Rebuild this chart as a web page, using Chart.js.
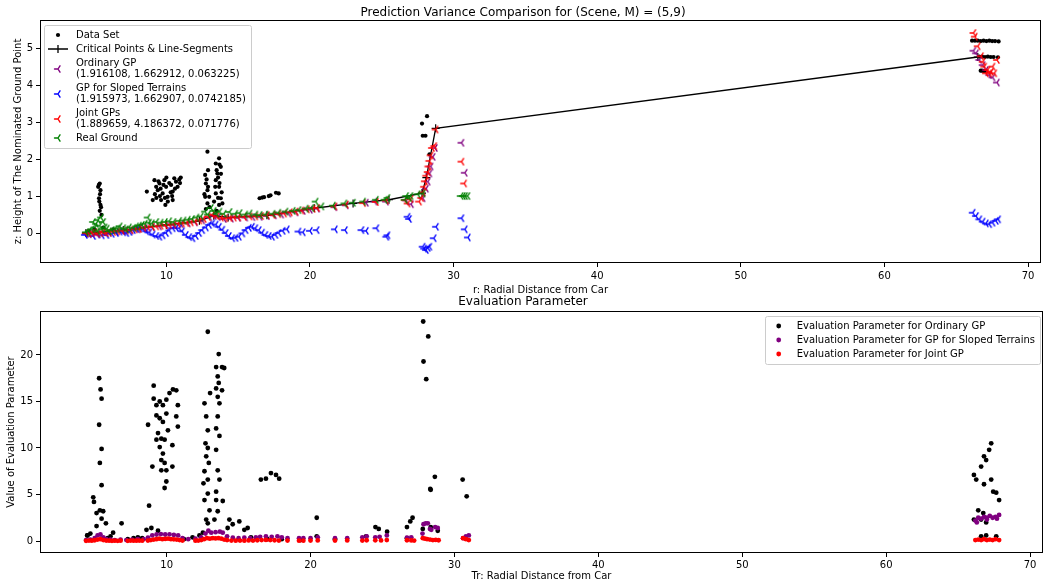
<!DOCTYPE html>
<html>
<head>
<meta charset="utf-8">
<script src="https://cdn.jsdelivr.net/npm/chart.js@4.4.1/dist/chart.umd.min.js"></script>
<style>
  html, body { margin: 0; padding: 0; background: #fff; }
  #wrap { position: relative; width: 1047px; height: 582px; }
  #topChart { position: absolute; left: 0; top: 0; }
  #bottomChart { position: absolute; left: 0; top: 290px; }
</style>
</head>
<body>
<div id="wrap">
  <canvas id="topChart" width="1047" height="300"></canvas>
  <canvas id="bottomChart" width="1047" height="292"></canvas>
</div>
<script>
// ---- data (r = radial distance, z = height / value) ----
const rTicks = [10, 20, 30, 40, 50, 60, 70];
const zTicks = [0, 1, 2, 3, 4, 5];
const evalTicks = [0, 5, 10, 15, 20];

const dataSet = [
  [5.25,1.25],[5.31,0.94],[5.36,1.34],[5.41,1.16],[5.41,0.76],[5.36,0.6],[5.48,0.49],[5.3,1.3],[5.38,1.05],[5.45,0.7],[5.33,0.85],
  [4.6,0.05],[5.0,0.1],[5.6,0.15],[6.3,0.1],
  [8.64,1.12],[9.05,0.89],[9.17,1.43],[9.29,1.25],[9.4,1.16],[9.52,1.34],[9.63,0.89],[9.74,1.07],[9.86,1.43],[9.93,0.76],[9.98,1.25],
  [10.09,0.98],[10.33,1.3],[10.44,0.89],[10.44,1.12],[10.55,1.48],[10.67,1.39],[10.78,1.25],[9.2,1.05],[9.45,1.4],[9.6,1.2],[9.8,1.3],
  [10.0,1.5],[10.2,1.35],[10.3,1.1],[10.6,1.2],[10.9,1.45],[11.0,1.5],[9.3,0.95],[9.9,0.95],[10.1,0.85],[10.4,1.0],[9.55,1.0],[10.95,1.35],
  [12.86,2.2],[13.67,2.02],[13.79,1.79],[13.44,1.88],[13.55,1.61],[12.7,1.57],[12.75,1.34],[12.86,1.16],[12.7,0.98],[12.86,0.8],
  [13.44,1.43],[13.67,1.25],[13.44,1.07],[13.79,0.94],[13.32,0.85],[13.67,0.76],[12.98,0.98],[13.9,0.8],[12.8,1.45],[12.9,1.7],
  [13.5,1.7],[13.6,1.5],[13.7,1.85],[13.8,1.6],[12.75,0.65],[13.0,0.7],[13.5,0.6],[13.85,1.1],[12.9,1.25],[13.4,1.25],[13.7,1.35],
  [12.65,1.05],[13.6,0.95],
  [16.49,0.94],[16.67,0.96],[16.8,0.97],[17.13,1.0],[17.25,1.02],[17.63,1.09],[17.82,1.07],
  [28.15,3.16],[27.8,2.96],[27.85,2.63],[28.04,2.63],[28.32,2.13],
  [66.1,5.2],[66.3,5.2],[66.5,5.2],[66.7,5.19],[66.9,5.2],[67.1,5.19],[67.3,5.2],[67.5,5.19],[67.7,5.19],[67.95,5.18],
  [66.6,4.77],[66.8,4.77],[67.0,4.76],[67.2,4.77],[67.4,4.76],[67.6,4.76],[67.9,4.75],
  [66.7,4.39],[66.8,4.39],[66.9,4.38],[67.0,4.38]
];

const criticalPts = [
  [4.4,0.0],[7.0,0.08],[10.0,0.22],[12.3,0.33],[13.3,0.47],[14.3,0.42],[17.0,0.48],[20.3,0.67],
  [23.0,0.8],[25.5,0.9],[27.8,1.08],[28.1,1.5],[28.75,2.83],[66.5,4.76]
];

const ordinaryGP = [
  [4.4,-0.02],[4.8,0.0],[5.2,-0.03],[5.6,0.02],[6.0,0.0],[6.5,0.03],[7.0,0.05],[7.5,0.07],[8.0,0.1],[8.5,0.13],[9.0,0.16],
  [9.5,0.18],[10.0,0.2],[10.5,0.22],[11.0,0.24],[11.5,0.26],[12.0,0.29],[12.5,0.34],[13.0,0.42],[13.3,0.46],[13.6,0.43],
  [14.0,0.38],[14.5,0.39],[15.0,0.41],[15.5,0.42],[16.0,0.43],[16.5,0.44],[17.0,0.46],[17.5,0.48],[18.0,0.5],[18.5,0.53],
  [19.0,0.56],[19.5,0.6],[20.0,0.63],[20.5,0.66],[21.7,0.7],[22.5,0.75],[23.9,0.82],[24.5,0.85],[25.3,0.85],[26.7,0.88],[27.04,0.78],
  [27.85,0.94],[28.08,1.2],[28.2,1.39],[28.32,1.61],[28.4,1.8],[28.55,2.06],[28.7,2.3],
  [30.55,2.44],[30.78,1.63],
  [66.2,4.93],[66.38,4.86],[66.61,4.68],[66.84,4.54],[67.07,4.41],[67.3,4.27],[67.53,4.21],[67.84,4.07]
];

const slopedGP = [
  [4.33,-0.05],[4.6,-0.03],[4.9,-0.08],[5.2,-0.04],[5.5,-0.06],[5.83,-0.05],[6.2,-0.02],[6.5,0.0],[6.75,0.04],[7.0,0.02],
  [7.21,0.0],[7.44,0.03],[7.67,0.08],[7.9,0.11],[8.13,0.13],[8.4,0.1],[8.6,0.05],[8.82,0.02],[9.05,-0.04],[9.3,-0.08],
  [9.52,-0.1],[9.74,-0.06],[9.98,0.0],[10.2,0.07],[10.44,0.13],[10.67,0.14],[10.9,0.13],[11.1,0.05],[11.36,-0.05],[11.6,-0.11],
  [11.82,-0.14],[12.05,-0.08],[12.28,0.0],[12.5,0.08],[12.75,0.15],[12.98,0.22],[13.2,0.26],[13.44,0.23],[13.67,0.17],[13.9,0.09],
  [14.13,0.0],[14.36,-0.08],[14.59,-0.14],[14.82,-0.13],[15.05,-0.1],[15.3,-0.01],[15.52,0.08],[15.75,0.14],[15.97,0.17],[16.2,0.13],
  [16.44,0.08],[16.67,0.01],[16.9,-0.05],[17.13,-0.08],[17.36,-0.1],[17.6,-0.05],[17.82,0.0],[18.1,0.06],[18.39,0.1],[19.2,0.04],
  [19.5,0.02],[20.0,0.06],[20.47,0.08],[21.74,0.1],[22.44,0.08],[23.59,0.08],[23.9,0.06],[24.63,0.13],[25.32,-0.1],[25.4,-0.06],
  [26.8,0.44],[26.9,0.38],[27.85,-0.37],[27.95,-0.42],[28.08,-0.46],[28.2,-0.4],[28.32,-0.37],[28.62,-0.14],[28.78,0.17],
  [30.55,0.4],[30.78,0.1],[31.0,-0.12],
  [66.15,0.55],[66.38,0.46],[66.61,0.37],[66.84,0.31],[67.07,0.26],[67.3,0.24],[67.53,0.28],[67.76,0.33],[67.92,0.37]
];

const jointGP = [
  [4.4,0.0],[4.6,-0.02],[4.8,0.0],[5.0,0.02],[5.2,-0.02],[5.4,0.0],[5.6,0.03],[5.8,0.0],[6.0,0.02],[6.3,0.03],[6.6,0.05],
  [6.9,0.06],[7.2,0.07],[7.5,0.08],[7.8,0.1],[8.1,0.11],[8.4,0.14],[8.7,0.15],[9.0,0.17],[9.3,0.18],[9.6,0.2],[9.9,0.21],
  [10.2,0.22],[10.5,0.23],[10.8,0.25],[11.1,0.26],[11.4,0.27],[11.7,0.29],[12.0,0.31],[12.3,0.34],[12.6,0.38],[12.9,0.44],
  [13.2,0.49],[13.5,0.46],[13.8,0.42],[14.1,0.4],[14.4,0.41],[14.7,0.42],[15.0,0.43],[15.4,0.44],[15.8,0.45],[16.2,0.45],
  [16.6,0.46],[17.0,0.48],[17.4,0.49],[17.8,0.51],[18.2,0.53],[18.6,0.56],[19.0,0.58],[19.4,0.61],[19.8,0.64],[20.2,0.66],
  [20.5,0.68],[21.7,0.72],[22.5,0.77],[23.7,0.81],[24.6,0.84],[25.3,0.88],[26.6,0.89],[26.8,0.8],[27.0,0.92],[27.6,0.85],
  [27.75,0.95],[27.85,1.1],[27.95,1.25],[28.0,1.4],[28.1,1.55],[28.2,1.65],[28.25,1.8],[28.32,1.95],[28.4,2.1],[28.5,2.3],
  [28.66,2.35],[28.75,2.8],
  [30.55,1.93],[30.74,1.34],
  [66.2,5.41],[66.3,5.31],[66.5,5.05],[66.73,4.78],[66.84,4.63],[66.95,4.5],[67.07,4.32],[67.18,4.41],[67.3,4.32],
  [67.42,4.36],[67.53,4.5],[67.65,4.32],[67.84,4.68]
];

const realGround = [
  [4.4,0.02],[4.6,0.05],[4.8,0.1],[4.9,0.3],[5.0,0.15],[5.1,0.25],[5.2,0.05],[5.25,0.35],[5.35,0.2],[5.45,0.42],[5.5,0.1],
  [5.6,0.3],[5.7,0.15],[5.85,0.12],[6.0,0.05],[6.2,0.08],[6.4,0.1],[6.6,0.12],[6.75,0.18],[7.0,0.13],[7.2,0.1],[7.4,0.15],
  [7.7,0.14],[7.9,0.18],[8.1,0.2],[8.3,0.22],[8.5,0.25],[8.7,0.42],[8.8,0.28],[9.0,0.26],[9.3,0.3],[9.6,0.28],[9.9,0.3],
  [10.2,0.32],[10.5,0.3],[10.9,0.33],[11.2,0.34],[11.5,0.36],[11.8,0.38],[12.1,0.42],[12.4,0.45],[12.7,0.58],[12.9,0.5],
  [13.1,0.68],[13.3,0.6],[13.5,0.52],[13.7,0.58],[14.0,0.52],[14.4,0.57],[14.8,0.52],[15.1,0.54],[15.5,0.5],[15.8,0.53],
  [16.2,0.5],[16.5,0.49],[16.9,0.5],[17.4,0.52],[17.8,0.55],[18.3,0.58],[18.8,0.6],[19.2,0.62],[19.7,0.66],[20.1,0.68],
  [20.4,0.85],[20.8,0.72],[21.6,0.74],[22.4,0.8],[23.0,0.82],[23.7,0.85],[24.6,0.9],[25.2,0.9],[25.4,0.95],
  [26.6,0.9],[26.7,1.0],[26.9,0.95],[27.0,1.0],[27.5,1.05],[27.85,1.07],
  [30.5,1.0],[30.65,1.0],[30.8,1.0],[30.97,1.0]
];

const evalOrdinary = [
  [5.31,17.5],[5.41,16.3],[5.48,15.3],[5.31,12.5],[5.48,9.9],[5.36,8.4],[5.48,6.0],[4.9,4.7],[4.95,4.2],[5.13,3.0],[5.36,3.3],
  [5.59,3.2],[5.13,1.6],[5.78,1.9],[5.48,2.4],[4.48,0.6],[6.28,0.9],[6.87,1.9],
  [8.71,12.5],[9.1,16.7],[9.1,15.3],[9.29,14.6],[9.52,15.0],[9.74,14.6],[9.98,15.2],[10.2,15.9],[10.44,16.3],[10.67,16.2],
  [10.78,14.6],[10.67,13.4],[10.78,12.3],[10.4,10.3],[10.4,8.0],[9.29,13.5],[9.52,13.2],[9.74,12.8],[9.98,13.7],[9.4,11.6],
  [9.63,11.0],[9.86,10.9],[10.09,11.9],[9.29,10.9],[9.52,10.1],[9.74,9.4],[9.63,8.7],[9.86,8.4],[9.98,7.6],[9.63,7.6],
  [9.86,5.7],[9.98,6.4],[9.01,8.0],[8.78,3.8],[8.94,1.4],[8.6,1.2],[9.4,1.1],
  [12.86,22.5],[13.62,20.1],[13.44,18.7],[13.85,18.7],[14.0,18.6],[13.55,17.7],[13.62,17.0],[13.44,16.4],[13.85,16.2],[13.02,15.9],
  [13.55,15.5],[12.63,14.8],[13.67,14.8],[12.75,13.4],[13.55,13.4],[12.86,11.9],[13.44,12.1],[13.67,11.3],[12.7,10.5],[12.86,10.0],
  [13.44,9.8],[12.75,9.1],[12.93,8.4],[13.55,7.6],[12.63,7.5],[12.86,6.6],[12.56,6.2],[13.67,6.6],[13.44,5.3],[12.86,5.1],
  [12.63,4.4],[13.44,4.4],[13.9,4.3],[12.98,3.3],[13.55,3.2],[12.75,2.3],[13.32,2.3],[12.86,1.9],[14.36,2.3],[14.59,1.8],
  [15.05,2.1],[15.4,1.2],[15.63,1.4],[15.86,0.4],[14.24,1.4],[12.28,0.6],[12.52,0.9],
  [16.55,6.6],[16.9,6.7],[17.25,7.3],[17.6,7.1],[17.82,6.7],
  [4.5,0.6],[4.7,0.8],[5.9,0.3],[6.1,0.5],[7.3,0.2],[7.7,0.3],[8.0,0.4],[8.3,0.3],[11.2,0.2],[11.8,0.4],[17.0,0.2],
  [18.0,0.2],[19.3,0.1],[20.43,2.5],[20.43,0.5],[21.7,0.2],[23.86,0.5],[24.51,1.5],[24.74,1.3],[25.32,1.0],
  [26.7,1.5],[26.93,2.1],[27.09,2.5],[26.7,0.3],
  [27.83,23.6],[28.18,22.0],[27.85,19.3],[28.04,17.4],[28.64,6.9],[28.32,5.6],[28.35,5.5],[27.8,1.3],[28.35,1.5],[28.84,1.1],
  [30.57,6.6],[30.85,4.8],
  [67.3,10.5],[67.16,9.8],[66.8,9.1],[66.95,8.7],[66.6,8.0],[66.1,7.1],[66.26,6.6],[67.3,6.6],[66.8,6.1],[67.44,5.3],
  [67.65,5.2],[67.85,4.4],[66.4,3.3],[66.75,3.0],[66.6,2.3],[66.95,2.0],[66.1,2.3],[66.95,0.6],[66.6,0.5],[67.65,0.5]
];

const evalSloped = [
  [4.4,0.1],[4.7,0.15],[5.0,0.3],[5.2,0.6],[5.4,0.7],[5.6,0.4],[5.8,0.2],[6.1,0.15],[6.4,0.1],[6.8,0.15],[7.2,0.1],
  [7.6,0.15],[8.0,0.2],[8.4,0.2],[8.7,0.35],[9.0,0.6],[9.3,0.7],[9.6,0.75],[9.9,0.7],[10.2,0.72],[10.5,0.65],[10.8,0.6],
  [11.1,0.3],[11.5,0.2],[12.0,0.25],[12.4,0.4],[12.7,0.8],[12.9,1.1],[13.1,0.9],[13.4,0.95],[13.7,1.0],[13.9,0.9],[14.2,0.5],
  [14.6,0.35],[15.0,0.3],[15.4,0.35],[15.8,0.3],[16.2,0.4],[16.5,0.45],[16.9,0.5],[17.3,0.45],[17.7,0.5],[18.0,0.4],[18.4,0.3],
  [19.2,0.3],[19.5,0.3],[20.0,0.3],[20.5,0.4],[21.7,0.3],[22.55,0.3],[23.6,0.4],[23.9,0.5],[24.5,0.4],[24.8,0.45],[25.3,0.6],
  [26.7,0.35],[27.0,0.4],[27.78,0.8],[27.85,1.8],[28.0,1.9],[28.15,1.9],[28.3,1.3],[28.39,1.2],[28.66,1.5],[28.84,1.4],
  [30.6,0.3],[30.8,0.5],[31.0,0.6],
  [66.2,2.2],[66.4,2.5],[66.6,2.4],[66.8,2.6],[67.0,2.5],[67.2,2.7],[67.4,2.5],[67.6,2.6],[67.85,2.8],[66.3,2.0],[67.0,2.3],[67.7,2.4]
];

const evalJoint = [
  [4.4,0.02],[4.6,0.05],[4.8,0.03],[5.0,0.08],[5.2,0.15],[5.4,0.2],[5.6,0.1],[5.8,0.05],[6.0,0.03],[6.2,0.02],[6.4,0.04],
  [6.6,0.02],[6.8,0.03],[7.3,0.02],[7.5,0.05],[7.7,0.03],[7.9,0.04],[8.1,0.05],[8.3,0.03],[8.7,0.05],[8.9,0.1],[9.1,0.15],
  [9.3,0.2],[9.5,0.25],[9.7,0.2],[9.9,0.22],[10.1,0.25],[10.3,0.2],[10.5,0.18],[10.7,0.15],[10.9,0.1],[11.1,0.05],[12.0,0.03],
  [12.2,0.05],[12.4,0.1],[12.6,0.2],[12.8,0.3],[13.0,0.25],[13.2,0.3],[13.4,0.28],[13.6,0.3],[13.8,0.25],[14.0,0.15],[14.2,0.1],
  [14.5,0.05],[14.8,0.04],[15.1,0.05],[15.4,0.04],[15.7,0.06],[16.0,0.05],[16.3,0.08],[16.6,0.1],[16.9,0.12],[17.2,0.1],
  [17.5,0.08],[17.8,0.05],[18.4,0.05],[19.2,0.03],[19.5,0.04],[20.0,0.05],[20.5,0.06],[21.7,0.05],[22.55,0.06],[23.6,0.05],
  [23.9,0.08],[24.5,0.07],[24.9,0.06],[25.3,0.1],[26.7,0.08],[27.0,0.06],[27.2,0.05],[27.8,0.3],[27.95,0.25],[28.1,0.2],
  [28.3,0.15],[28.5,0.1],[28.7,0.12],[28.9,0.08],[30.6,0.3],[30.8,0.2],[31.0,0.1],
  [66.2,0.1],[66.4,0.15],[66.6,0.1],[66.8,0.2],[67.0,0.1],[67.2,0.15],[67.4,0.1],[67.6,0.2],[67.85,0.1]
];

// ---- helpers ----
Chart.defaults.font.family = "'DejaVu Sans', sans-serif";
Chart.defaults.font.size = 10;
Chart.defaults.color = '#000';

const toXY = pts => pts.map(p => ({ x: p[0], y: p[1] }));

// matplotlib-like "tri_left" marker
function triMarker(color) {
  const c = document.createElement('canvas');
  c.width = 10; c.height = 10;
  const g = c.getContext('2d');
  g.strokeStyle = color;
  g.lineWidth = 1.4;
  g.lineCap = 'round';
  g.beginPath();
  g.moveTo(5, 5); g.lineTo(1.5, 5);
  g.moveTo(5, 5); g.lineTo(7, 1.8);
  g.moveTo(5, 5); g.lineTo(7, 8.2);
  g.stroke();
  return c;
}

// black frame round the plot area (all four spines)
const framePlugin = {
  id: 'frame',
  afterDatasetsDraw(chart) {
    const { ctx, chartArea: a } = chart;
    ctx.save();
    ctx.strokeStyle = '#000';
    ctx.lineWidth = 1;
    ctx.strokeRect(Math.round(a.left) + 0.5, Math.round(a.top) + 0.5,
      Math.round(a.right - a.left) - 1, Math.round(a.bottom - a.top) - 1);
    ctx.restore();
  }
};

// legend box drawn inside the plot, like matplotlib
const boxLegend = {
  id: 'boxLegend',
  afterDraw(chart, args, opts) {
    const ctx = chart.ctx;
    const lineH = 11, gap = 3, pad = 4.5;
    ctx.save();
    ctx.font = "10px 'DejaVu Sans'";
    const entries = chart.data.datasets.map(ds => ({ ds, lines: ds.label.split('\n') }));
    let maxW = 0;
    entries.forEach(e => e.lines.forEach(l => { maxW = Math.max(maxW, ctx.measureText(l).width); }));
    const h = pad * 2 + entries.reduce((s, e) => s + e.lines.length * lineH, 0) + gap * (entries.length - 1);
    const w = opts.textDx + maxW + 5;
    const x = opts.right !== undefined ? chart.chartArea.right - opts.right - w : chart.chartArea.left + opts.left;
    const y = chart.chartArea.top + opts.top;

    ctx.fillStyle = 'rgba(255,255,255,0.8)';
    ctx.strokeStyle = '#cccccc';
    ctx.lineWidth = 1;
    ctx.beginPath();
    ctx.roundRect(Math.round(x) + 0.5, Math.round(y) + 0.5, Math.round(w), Math.round(h), 2);
    ctx.fill();
    ctx.stroke();

    let cy = y + pad;
    entries.forEach(e => {
      const blockH = e.lines.length * lineH;
      const my = cy + blockH / 2;
      const mx = x + opts.markerDx;
      const ds = e.ds;
      if (ds.showLine) {
        ctx.strokeStyle = ds.borderColor;
        ctx.lineWidth = 1.3;
        ctx.beginPath();
        ctx.moveTo(mx - 10, my); ctx.lineTo(mx + 10, my);
        ctx.moveTo(mx, my - 4); ctx.lineTo(mx, my + 4);
        ctx.stroke();
      } else if (ds.pointStyle instanceof HTMLCanvasElement) {
        ctx.drawImage(ds.pointStyle, Math.round(mx - 5), Math.round(my - 5));
      } else {
        ctx.fillStyle = ds.backgroundColor;
        ctx.beginPath();
        ctx.arc(mx, my, ds.pointRadius, 0, Math.PI * 2);
        ctx.fill();
      }
      ctx.fillStyle = '#000';
      ctx.textBaseline = 'middle';
      e.lines.forEach((l, i) => ctx.fillText(l, x + opts.textDx, cy + lineH * i + lineH / 2));
      cy += blockH + gap;
    });
    ctx.restore();
  }
};

function xScale(title, tickPad, height, titlePad) {
  return {
    type: 'linear', min: 1.2, max: 70.9,
    afterBuildTicks: s => { s.ticks = rTicks.map(v => ({ value: v })); },
    afterFit: s => { s.height = height; },
    grid: { drawOnChartArea: false, drawTicks: true, tickLength: 4, tickColor: '#000', tickWidth: 1 },
    border: { display: false },
    ticks: { color: '#000', padding: tickPad, maxRotation: 0, autoSkip: false },
    title: { display: true, text: title, color: '#000', padding: { top: 0, bottom: titlePad } }
  };
}

function yScale(title, min, max, tickArr, titlePad) {
  return {
    type: 'linear', min: min, max: max,
    afterBuildTicks: s => { s.ticks = tickArr.map(v => ({ value: v })); },
    afterFit: s => { s.width = 40; },
    grid: { drawOnChartArea: false, drawTicks: true, tickLength: 4, tickColor: '#000', tickWidth: 1 },
    border: { display: false },
    ticks: { color: '#000', padding: 3 },
    title: { display: true, text: title, color: '#000', padding: { top: titlePad, bottom: 0 } }
  };
}

function scatterSet(label, pts, color, radius, order) {
  return {
    label: label, data: toXY(pts), backgroundColor: color, borderColor: color,
    pointRadius: radius, pointBorderWidth: 0, order: order
  };
}

function triSet(label, pts, color, order) {
  return {
    label: label, data: toXY(pts), pointStyle: triMarker(color), pointRadius: 5,
    backgroundColor: color, borderColor: color, order: order
  };
}

// ---- top chart ----
new Chart(document.getElementById('topChart'), {
  type: 'scatter',
  data: {
    datasets: [
      scatterSet('Data Set', dataSet, '#000000', 2.1, 6),
      {
        label: 'Critical Points & Line-Segments', data: toXY(criticalPts), showLine: true,
        borderColor: '#000000', backgroundColor: '#000000', borderWidth: 1.3,
        pointStyle: 'cross', pointRadius: 4, pointBorderWidth: 1.2, order: 5
      },
      triSet('Ordinary GP\n(1.916108, 1.662912, 0.063225)', ordinaryGP, '#800080', 4),
      triSet('GP for Sloped Terrains\n(1.915973, 1.662907, 0.0742185)', slopedGP, '#0000ff', 3),
      triSet('Joint GPs\n(1.889659, 4.186372, 0.071776)', jointGP, '#ff0000', 2),
      triSet('Real Ground', realGround, '#008000', 1)
    ]
  },
  options: {
    responsive: false, animation: false, events: [],
    layout: { padding: { left: 0, right: 1, top: 0, bottom: 0 } },
    scales: {
      x: xScale('r: Radial Distance from Car', 3, 37, 4),
      y: yScale('z: Height of The Nominated Ground Point', -0.81, 5.76, zTicks, 12)
    },
    plugins: {
      legend: { display: false },
      tooltip: { enabled: false },
      title: {
        display: true, text: 'Prediction Variance Comparison for (Scene, M) = (5,9)',
        color: '#000', font: { size: 12, weight: 'normal' }, padding: { top: 5.5, bottom: 0.1 }
      },
      boxLegend: { left: 4, top: 5, markerDx: 14, textDx: 32 }
    }
  },
  plugins: [framePlugin, boxLegend]
});

// ---- bottom chart ----
new Chart(document.getElementById('bottomChart'), {
  type: 'scatter',
  data: {
    datasets: [
      scatterSet('Evaluation Parameter for Ordinary GP', evalOrdinary, '#000000', 2.4, 3),
      scatterSet('Evaluation Parameter for GP for Sloped Terrains', evalSloped, '#800080', 2.4, 2),
      scatterSet('Evaluation Parameter for Joint GP', evalJoint, '#ff0000', 2.4, 1)
    ]
  },
  options: {
    responsive: false, animation: false, events: [],
    layout: { padding: { left: 0, right: 1, top: 0, bottom: 0 } },
    scales: {
      x: xScale('Tr: Radial Distance from Car', 2.5, 29, 0),
      y: yScale('Value of Evaluation Parameter', -1.29, 24.73, evalTicks, 5)
    },
    plugins: {
      legend: { display: false },
      tooltip: { enabled: false },
      title: {
        display: true, text: 'Evaluation Parameter',
        color: '#000', font: { size: 12, weight: 'normal' }, padding: { top: 4.5, bottom: 2.1 }
      },
      boxLegend: { right: 3, top: 5, markerDx: 14, textDx: 32 }
    }
  },
  plugins: [framePlugin, boxLegend]
});
</script>
</body>
</html>
